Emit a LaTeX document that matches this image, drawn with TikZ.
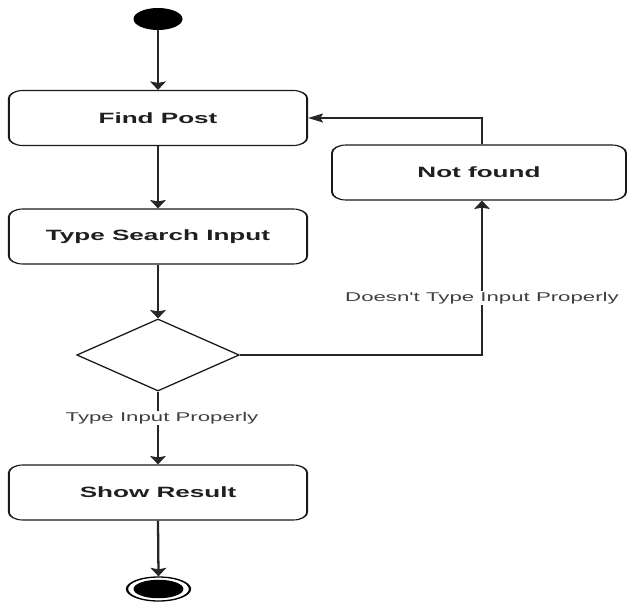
\documentclass[tikz,border=0pt]{standalone}
\usepackage{fontspec}
\setmainfont{Liberation Sans}[Ligatures=TeXOff]
\usetikzlibrary{shapes.geometric,arrows.meta}
\begin{document}
\begin{tikzpicture}
\useasboundingbox (0pt,0pt) rectangle (627pt,-602pt);
\begin{scope}[transform canvas={xscale=1.75},x=0.571429pt,y=-1pt,
  box/.style={draw=black!90,line width=1.1pt,rounded corners=8pt,minimum width=170.5pt,minimum height=55pt,inner sep=0pt,
    font=\fontsize{14.9}{17}\selectfont\bfseries,text=black!88},
  decst/.style={draw=black!90,line width=1.1pt,diamond,aspect=1.29,minimum width=93pt,minimum height=72pt,inner sep=0pt},
  startst/.style={ellipse,fill=black,minimum width=28pt,minimum height=22pt,inner sep=0pt},
  endst/.style={ellipse,draw=black,line width=1.3pt,minimum width=36pt,minimum height=24pt,inner sep=0pt},
  endin/.style={ellipse,fill=black,minimum width=28.5pt,minimum height=18.5pt,inner sep=0pt},
  conn/.style={draw=black!85,line width=1.3pt,-{Stealth[width=9pt,length=8.5pt,inset=1.5pt]}},
  lbl/.style={fill=white,inner sep=1pt,font=\fontsize{12.7}{14}\selectfont,text=black!75}]
\node[startst] (start) at (158,19) {};
\node[box] (find) at (158,118) {Find Post};
\node[box] (type) at (158,236.5) {Type Search Input};
\node[decst] (dec) at (158,355) {};
\node[box] (show) at (158,492.5) {Show Result};
\node[endst] (end) at (158.5,589) {};
\node[endin] (endc) at (158.5,589) {};
\node[box,minimum width=168pt] (nf) at (479,172.5) {Not found};
\coordinate (c1) at (482,355);
\draw[conn] (start.south) -- (find.north);
\draw[conn] (find.south) -- (type.north);
\draw[conn] (type.south) -- (dec.north);
\draw[conn] (dec.south) -- node[lbl,pos=.365,xshift=2.3pt]{Type Input Properly} (show.north);
\draw[conn] (show.south) -- (end.north);
\draw[conn] (dec.east) -- (c1) -- node[lbl,pos=.37]{Doesn't Type Input Properly} (nf.south -| c1);
\draw[conn] (nf.north -| c1) |- (find.east);
\end{scope}
\end{tikzpicture}
\end{document}
